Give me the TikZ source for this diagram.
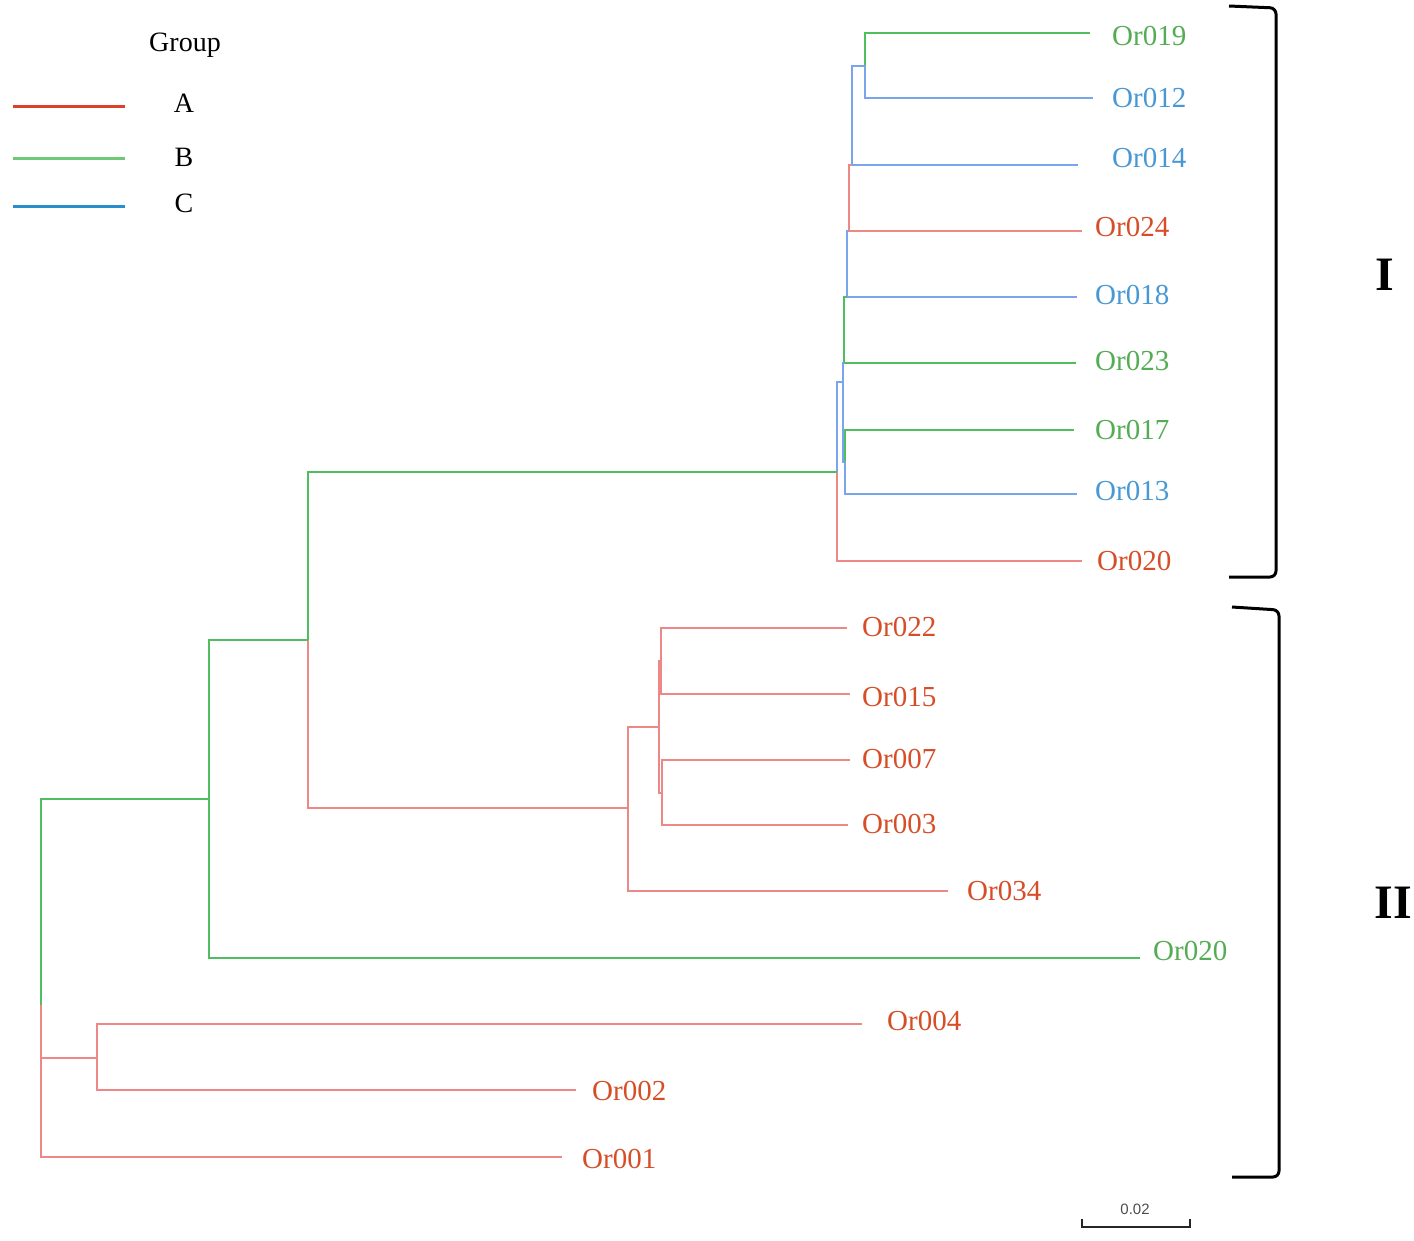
\documentclass[tikz,border=0pt]{standalone}
\usepackage{fontspec}
\setmainfont{Liberation Serif}
\newfontfamily\barfont{Liberation Sans}
\usepackage{xcolor}
\usepackage{tikz}
\usetikzlibrary{positioning}
\definecolor{brred}{RGB}{238,136,134}
\definecolor{brgreen}{RGB}{80,190,96}
\definecolor{brblue}{RGB}{122,164,236}
\definecolor{txred}{RGB}{214,78,40}
\definecolor{txgreen}{RGB}{84,172,84}
\definecolor{txblue}{RGB}{72,152,212}
\definecolor{lgred}{RGB}{222,66,36}
\definecolor{lggreen}{RGB}{110,200,120}
\definecolor{lgblue}{RGB}{42,142,202}
\tikzstyle{leaf} = [anchor=west, inner sep=0pt, font=\fontsize{29}{33}\selectfont]
\tikzstyle{rbr} = [line width=2.7pt, brred]
\tikzstyle{gbr} = [line width=2.7pt, brgreen]
\tikzstyle{bbr} = [line width=2.7pt, brblue]
\tikzstyle{bracket} = [line width=3pt, rounded corners=6pt, black]
\tikzstyle{clade} = [font=\fontsize{48}{52}\selectfont\bfseries]
\tikzstyle{legtext} = [font=\fontsize{28}{31}\selectfont]

\begin{document}
\begin{tikzpicture}[x=1pt, y=-1pt]
    \useasboundingbox (0,0) rectangle (1414,1240);
    % legend
    \node (grp) [legtext] at (185,45) {Group};
    \node (ga) [legtext] at (184,103) {A};
    \node (gb) [legtext] at (184,157) {B};
    \node (gc) [legtext] at (184,203) {C};
    \draw [line width=3pt, lgred] (13,106) -- (125,106);
    \draw [line width=3pt, lggreen] (13,158) -- (125,158);
    \draw [line width=3pt, lgblue] (13,206) -- (125,206);
    % leaf tips
    \coordinate (t19) at (1090,33);
    \coordinate (t12) at (1093,98);
    \coordinate (t14) at (1078,165);
    \coordinate (t24) at (1082,231);
    \coordinate (t18) at (1077,297);
    \coordinate (t23) at (1076,363);
    \coordinate (t17) at (1074,430);
    \coordinate (t13) at (1077,494);
    \coordinate (t20) at (1082,561);
    \coordinate (t22) at (847,628);
    \coordinate (t15) at (850,694);
    \coordinate (t07) at (850,760);
    \coordinate (t03) at (848,825);
    \coordinate (t34) at (948,891);
    \coordinate (t20g) at (1140,958);
    \coordinate (t04) at (862,1024);
    \coordinate (t02) at (576,1090);
    \coordinate (t01) at (562,1157);
    % leaf labels
    \node (l19) [leaf, txgreen] at (1112,36) {Or019};
    \node (l12) [leaf, txblue] at (1112,98) {Or012};
    \node (l14) [leaf, txblue] at (1112,158) {Or014};
    \node (l24) [leaf, txred] at (1095,227) {Or024};
    \node (l18) [leaf, txblue] at (1095,295) {Or018};
    \node (l23) [leaf, txgreen] at (1095,361) {Or023};
    \node (l17) [leaf, txgreen] at (1095,430) {Or017};
    \node (l13) [leaf, txblue] at (1095,491) {Or013};
    \node (l20) [leaf, txred] at (1097,561) {Or020};
    \node (l22) [leaf, txred] at (862,627) {Or022};
    \node (l15) [leaf, txred] at (862,697) {Or015};
    \node (l07) [leaf, txred] at (862,759) {Or007};
    \node (l03) [leaf, txred] at (862,824) {Or003};
    \node (l34) [leaf, txred] at (967,891) {Or034};
    \node (l20g) [leaf, txgreen] at (1153,951) {Or020};
    \node (l04) [leaf, txred] at (887,1021) {Or004};
    \node (l02) [leaf, txred] at (592,1091) {Or002};
    \node (l01) [leaf, txred] at (582,1159) {Or001};
    % internal nodes
    \coordinate (nA) at (865,66);
    \coordinate (nB) at (852,165);
    \coordinate (nC) at (849,231);
    \coordinate (nD) at (847,297);
    \coordinate (nE) at (844,363);
    \coordinate (nF) at (845,462);
    \coordinate (nG) at (843,382);
    \coordinate (nH) at (837,472);
    \coordinate (nK1) at (661,661);
    \coordinate (nK2) at (662,793);
    \coordinate (nK) at (659,727);
    \coordinate (nJ) at (628,808);
    \coordinate (nI) at (308,640);
    \coordinate (nM) at (209,799);
    \coordinate (nL) at (97,1058);
    \coordinate (nR) at (41,1005);
    % clade I
    \draw [gbr] (nA) |- (t19);
    \draw [bbr] (nA) |- (t12);
    \draw [bbr] (nB) |- (nA);
    \draw [bbr] (nB) -- (t14);
    \draw [rbr] (nC) |- (nB);
    \draw [rbr] (nC) -- (t24);
    \draw [bbr] (nD) |- (nC);
    \draw [bbr] (nD) -- (t18);
    \draw [gbr] (nE) |- (nD);
    \draw [gbr] (nE) -- (t23);
    \draw [gbr] (nF) |- (t17);
    \draw [bbr] (nF) |- (t13);
    \draw [bbr] (nG) |- (nE);
    \draw [bbr] (nG) |- (nF);
    \draw [bbr] (nH) |- (nG);
    \draw [rbr] (nH) |- (t20);
    % clade II
    \draw [rbr] (nK1) |- (t22);
    \draw [rbr] (nK1) |- (t15);
    \draw [rbr] (nK2) |- (t07);
    \draw [rbr] (nK2) |- (t03);
    \draw [rbr] (nK) |- (nK1);
    \draw [rbr] (nK) |- (nK2);
    \draw [rbr] (nJ) |- (nK);
    \draw [rbr] (nJ) |- (t34);
    \draw [gbr] (nI) |- (nH);
    \draw [rbr] (nI) |- (nJ);
    \draw [gbr] (nM) |- (nI);
    \draw [gbr] (nM) |- (t20g);
    \draw [rbr] (nL) |- (t04);
    \draw [rbr] (nL) |- (t02);
    \draw [gbr] (nR) |- (nM);
    \draw [rbr] (nR) |- (nL);
    \draw [rbr] (nR) |- (t01);
    % brackets
    \draw [bracket] (1229,6) -- (1276,8) -- (1276,577) -- (1229,577);
    \draw [bracket] (1232,607) -- (1279,610) -- (1279,1177) -- (1232,1177);
    \node (cI) [clade] at (1385,275) {I};
    \node (cII) [clade] at (1393,903) {II};
    % scale bar
    \draw [line width=2.4pt, black!85] (1082,1219) -- (1082,1227) -- (1190,1227) -- (1190,1219);
    \node (sc) [font=\barfont\fontsize{15}{17}\selectfont, black!70] at (1135,1209) {0.02};
\end{tikzpicture}
\end{document}
